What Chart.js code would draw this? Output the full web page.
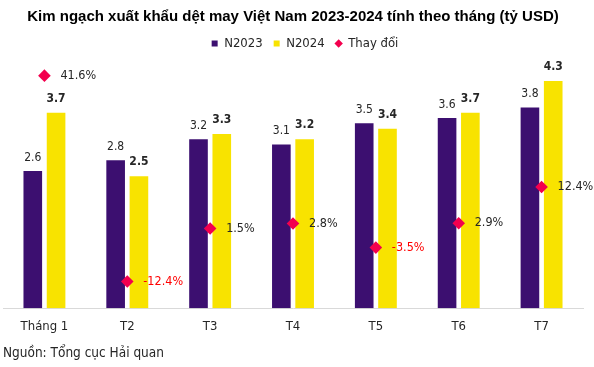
<!DOCTYPE html>
<html>
<head>
<meta charset="utf-8">
<script src="https://cdn.jsdelivr.net/npm/chart.js@4.4.1/dist/chart.umd.min.js"></script>
<style>
  html, body { margin:0; padding:0; background:#fff; }
  #wrap { position:relative; width:594px; height:367px; }
</style>
</head>
<body>
<div id="wrap"><canvas id="chart"></canvas></div>
<script>
const months = ['Tháng 1','T2','T3','T4','T5','T6','T7'];
const n2023 = [2.6, 2.8, 3.2, 3.1, 3.5, 3.6, 3.8];
const n2024 = [3.7, 2.5, 3.3, 3.2, 3.4, 3.7, 4.3];
const change = [41.6, -12.4, 1.5, 2.8, -3.5, 2.9, 12.4];

const FONT = '"DejaVu Sans Condensed", "DejaVu Sans", sans-serif';
const PURPLE = '#3c0f70';
const YELLOW = '#f8e300';
const PINK = '#f3004e';

// value labels above the bars, % labels to the right of the diamonds
const valueLabels = {
  id: 'valueLabels',
  afterLayout(chart){
    // legend sits a bit right of centre in the original
    chart.legend.left += 12;
    chart.legend.right += 12;
  },
  afterDatasetsDraw(chart){
    const ctx = chart.ctx;
    ctx.save();
    chart.data.datasets.forEach((ds, i) => {
      const meta = chart.getDatasetMeta(i);
      meta.data.forEach((el, j) => {
        const v = ds.data[j];
        if (ds.type === 'line') {
          ctx.font = '12.5px ' + FONT;
          ctx.fillStyle = v < 0 ? '#ff0000' : '#262626';
          ctx.textAlign = 'left';
          ctx.textBaseline = 'middle';
          ctx.fillText(v.toFixed(1) + '%', el.x + 16, el.y);
        } else {
          const bold = ds.label === 'N2024';
          ctx.font = (bold ? 'bold ' : '') + '12px ' + FONT;
          ctx.fillStyle = '#262626';
          ctx.textAlign = 'center';
          ctx.textBaseline = 'middle';
          ctx.fillText(v.toFixed(1), el.x, el.y - (bold ? 14 : 13.5));
        }
      });
    });
    ctx.restore();
  }
};

new Chart(document.getElementById('chart'), {
  type: 'bar',
  data: {
    labels: months,
    datasets: [
      { label:'N2023', data:n2023, backgroundColor:PURPLE, pointStyle:'rect',
        categoryPercentage:.562, barPercentage:.8, yAxisID:'y' },
      { label:'N2024', data:n2024, backgroundColor:YELLOW, pointStyle:'rect',
        categoryPercentage:.562, barPercentage:.8, yAxisID:'y' },
      { type:'line', label:'Thay đổi', data:change, showLine:false,
        pointStyle:'rectRot', pointRadius:6.3, pointHoverRadius:6.3,
        backgroundColor:PINK, borderColor:PINK, borderWidth:0,
        yAxisID:'y2', order:-1 }
    ]
  },
  options: {
    responsive:true,
    maintainAspectRatio:false,
    animation:false,
    layout:{ autoPadding:false, padding:{ left:3, right:11, top:0, bottom:0 } },
    plugins:{
      title:{
        display:true,
        text:'Kim ngạch xuất khẩu dệt may Việt Nam 2023-2024 tính theo tháng (tỷ USD)',
        color:'#000',
        font:{ family:'"Liberation Sans", Arial, sans-serif', size:15, weight:'bold' },
        padding:{ top:8, bottom:0 }
      },
      legend:{
        display:true,
        labels:{
          usePointStyle:true, boxWidth:6, boxHeight:6, padding:11,
          color:'#262626', font:{ family:FONT, size:13 },
          sort:(a, b) => a.datasetIndex - b.datasetIndex
        }
      },
      subtitle:{
        display:true,
        position:'bottom',
        align:'start',
        text:'Nguồn: Tổng cục Hải quan',
        color:'#262626',
        font:{ family:FONT, size:13.5 },
        padding:{ top:0, bottom:5 }
      },
      tooltip:{ enabled:false }
    },
    scales:{
      x:{
        grid:{ display:false, drawTicks:false },
        border:{ display:true, color:'#d9d9d9', width:1 },
        ticks:{ color:'#262626', font:{ family:FONT, size:13 }, padding:11 }
      },
      y:{ display:false, min:0, max:4.7 },
      y2:{ display:false, position:'right', min:-19.4, max:45.7 }
    }
  },
  plugins:[valueLabels]
});
</script>
</body>
</html>
